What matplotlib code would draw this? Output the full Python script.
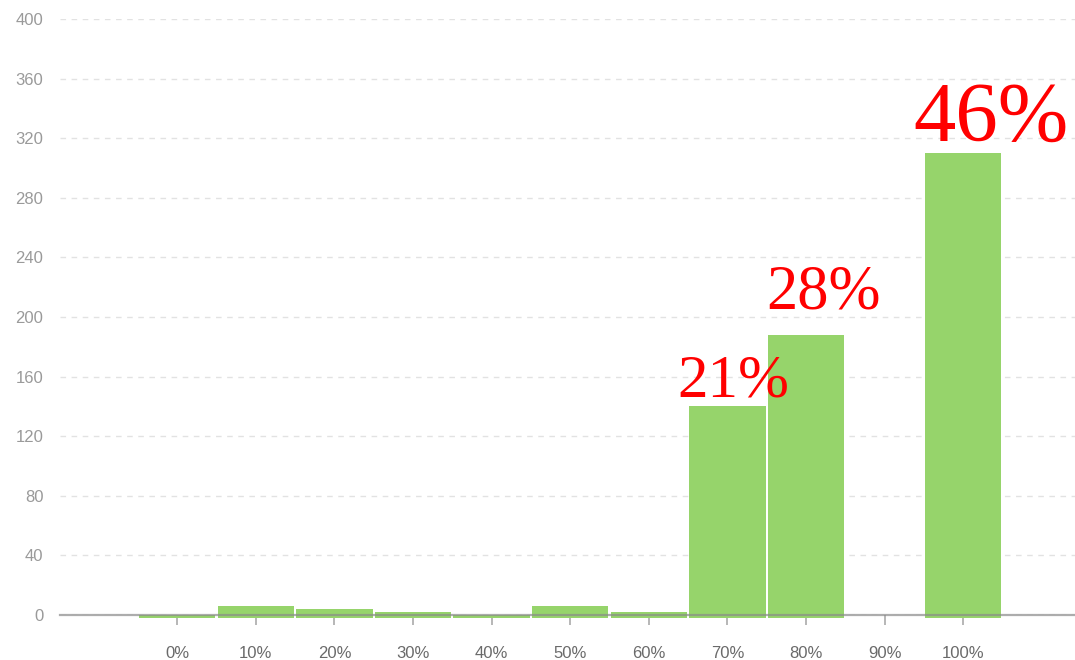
import numpy as np
import matplotlib.pyplot as plt

# score buckets and counts
buckets = ['0%', '10%', '20%', '30%', '40%', '50%', '60%', '70%', '80%', '90%', '100%']
counts = [0.3, 6, 4, 2, 0.3, 6, 2, 140, 188, 0, 310]
# share labels written over the big bars
share_idx = [7, 8, 10]
share_txt = ['21%', '28%', '46%']

# label placement (x shift in bar units, y shift in counts, font size)
label_dx = [0.07, 0.22, 0.35]
label_dy = [-2, 8.5, -3.5]
label_fs = [44, 45, 61]

fig = plt.figure(figsize=(10.75, 6.6), dpi=100)
ax = fig.add_axes([60 / 1075, 45 / 660, 1 - 60 / 1075, 596 / 660])

x = np.arange(len(buckets))
vals = np.array(counts, dtype=float)
shown = vals > 0
# bars hang a touch below the baseline like in the original
ax.bar(x[shown], vals[shown] + 1.8, bottom=-1.8, width=0.97,
       color='#96d46b', edgecolor='none', clip_on=False, zorder=3)

ax.set_xlim(-1.49, 11.42)
ax.set_ylim(0, 400)
ax.set_yticks(np.arange(0, 401, 40))
ax.set_xticks(x)
ax.set_xticklabels(buckets)

ax.grid(axis='y', linestyle=(0, (4, 4)), color='#e2e2e2', linewidth=1)
ax.set_axisbelow(True)
for s in ['top', 'right', 'left']:
    ax.spines[s].set_visible(False)
ax.spines['bottom'].set_color('#8a8a8a')
ax.spines['bottom'].set_alpha(0.7)
ax.spines['bottom'].set_linewidth(1.6)
ax.spines['bottom'].set_zorder(4)

ax.tick_params(axis='y', length=0, pad=12, labelsize=12, labelcolor='#9a9a9a')
ax.tick_params(axis='x', length=7, width=1.2, color='#aaaaaa', pad=15,
               labelsize=12, labelcolor='#6a6a6a', direction='out')
for lab in ax.get_xticklabels() + ax.get_yticklabels():
    lab.set_family('Liberation Sans')

for i, txt, dx, dy, fs in zip(share_idx, share_txt, label_dx, label_dy, label_fs):
    ax.text(x[i] + dx, vals[i] + dy, txt, color='red',
            fontsize=fs, family='Liberation Serif', ha='center', va='bottom',
            zorder=5)

plt.savefig('out.png', dpi=100)
